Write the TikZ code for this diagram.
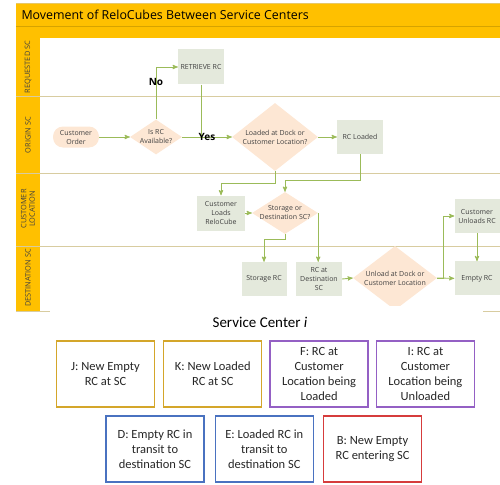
\documentclass[tikz,border=0pt]{standalone}
\usepackage{fontspec}
\setmainfont{Carlito}
\newfontfamily\uifont{Open Sans}
\usetikzlibrary{arrows,shapes,positioning}
\definecolor{bandyellow}{HTML}{FFC000}
\definecolor{bandedge}{HTML}{D6A300}
\definecolor{lanecol}{HTML}{D8CCA0}
\definecolor{flowgreen}{HTML}{9BBB59}
\definecolor{actfill}{HTML}{E4E9DC}
\definecolor{decfill}{HTML}{FDE7D4}
\definecolor{txtgray}{HTML}{404040}
\definecolor{goldline}{HTML}{D4A62A}
\definecolor{purpline}{HTML}{9460C4}
\definecolor{blueline}{HTML}{4A72C0}
\definecolor{redline}{HTML}{D63C3C}

\begin{document}
\begin{tikzpicture}[x=1pt,y=-1pt,
act/.style={
rectangle,
fill=actfill,
minimum width=46,
minimum height=34,
inner sep=1pt,
align=center,
text=txtgray,
font=\uifont\fontsize{7}{9}\selectfont
},
dec/.style={
diamond,
fill=decfill,
inner sep=0pt
},
dectext/.style={align=center,text=txtgray,font=\uifont\fontsize{7}{9}\selectfont},
startend/.style={act,fill=decfill,rounded corners=10pt,minimum width=46,minimum height=21},
lanelbl/.style={rotate=90,align=center,text=txtgray,font=\uifont\fontsize{7.4}{8.5}\selectfont},
answer/.style={font=\uifont\bfseries\fontsize{10}{12}\selectfont,text=black,inner sep=0pt},
flow/.style={->,>=stealth',draw=flowgreen,line width=0.9pt},
state/.style={
rectangle,
draw,
line width=1.3pt,
minimum width=98,
minimum height=66,
inner sep=1pt,
align=center,
text=black!85,
font=\fontsize{12.5}{15}\selectfont
}]
\useasboundingbox (0,0) rectangle (500,484);

% swimlane frame
\fill[bandyellow] (16,3) rectangle (500,38);
\draw[bandedge,line width=0.6pt] (16,26) -- (500,26);
\draw[bandedge!60,line width=0.4pt] (16,3) -- (500,3);
\fill[bandyellow] (16,38) rectangle (40,311);
\foreach \y in {97,173,246}
  \draw[lanecol,line width=1pt] (16,\y) -- (500,\y);
\draw[lanecol,line width=1pt] (16,311) -- (50,311);
\draw[lanecol,line width=1pt] (483,311) -- (500,311);
\node (title) [anchor=west,font=\uifont\fontsize{12.4}{14}\selectfont] at (18,15) {Movement of ReloCubes Between Service Centers};
\node (lreq) [lanelbl] at (28,67) {REQUESTED SC};
\node (lorig) [lanelbl] at (28,135) {ORIGIN SC};
\node (lcust) [lanelbl] at (28,209) {CUSTOMER\\LOCATION};
\node (ldest) [lanelbl] at (28,278) {DESTINATION SC};

\begin{scope}
\clip (40,38) rectangle (500,305);
\node (order) [startend] at (76,137) {Customer\\Order};
\node (isrc) [dec,minimum width=52,minimum height=35,label={[dectext]center:Is RC\\Available?}] at (156,137) {};
\node (retrieve) [act,minimum height=35] at (201,67) {RETRIEVE RC};
\node (loaded) [dec,minimum width=86,minimum height=68,label={[dectext]center:Loaded at Dock or\\Customer Location?}] at (275,137) {};
\node (rcloaded) [act] at (360,137) {RC Loaded};
\node (cload) [act,minimum width=48,minimum height=35] at (221,213) {Customer\\Loads\\ReloCube};
\node (storage) [dec,minimum width=66,minimum height=42,label={[dectext]center:Storage or\\Destination SC?}] at (285,213) {};
\node (storrc) [act,minimum width=45] at (264,279) {Storage RC};
\node (rcdest) [act] at (319,279) {RC at\\Destination\\SC};
\node (unload) [dec,minimum width=84,minimum height=64,label={[dectext]center:Unload at Dock or\\Customer Location}] at (395,278) {};
\node (cunload) [act,minimum width=45] at (477,216) {Customer\\Unloads RC};
\node (emptyrc) [act,minimum width=45,below=28pt of cunload] {Empty RC};

\draw[flow] (order) -- (isrc);
\draw[flow] (isrc.north) |- node[answer,pos=0.36] (no) {No} (retrieve.west);
\draw[flow,-] (retrieve.south) -- (retrieve.south |- isrc.east);
\draw[flow] (isrc.east) -- node[answer] (yes) {Yes} (loaded.west);
\draw[flow] (loaded.east) -- (rcloaded.west);
\draw[flow] (loaded.south) -- ++(0,12) -| (cload.north);
\draw[flow] (rcloaded.south) -- ++(0,26) -| (storage.north);
\draw[flow] (cload.east) -- (storage.west);
\draw[flow] (storage.south) -- ++(0,5) -| (storrc.north);
\draw[flow] (storage.east) -- (storage.east |- rcdest.north);
\draw[flow] (rcdest.east) -- (unload.west);
\draw[flow] (unload.east) -- ++(6,0) |- (cunload.west);
\draw[flow] (unload.east) -- (emptyrc.west);
\draw[flow] (cunload.south) -- (emptyrc.north);
\end{scope}

% states at the service center
\node (sc) [font=\fontsize{15}{17}\selectfont] at (260,322) {Service Center \textit{i}};
\node (j) [state,draw=goldline] at (105.5,374) {J: New Empty\\RC at SC};
\node (k) [state,draw=goldline,right=8pt of j] {K: New Loaded\\RC at SC};
\node (f) [state,draw=purpline,right=7pt of k] {F: RC at\\Customer\\Location being\\Loaded};
\node (i) [state,draw=purpline,right=7pt of f] {I: RC at\\Customer\\Location being\\Unloaded};
\node (d) [state,draw=blueline] at (155,449) {D: Empty RC in\\transit to\\destination SC};
\node (e) [state,draw=blueline,right=10pt of d] {E: Loaded RC in\\transit to\\destination SC};
\node (b) [state,draw=redline,right=9pt of e] {B: New Empty\\RC entering SC};
\end{tikzpicture}
\end{document}
